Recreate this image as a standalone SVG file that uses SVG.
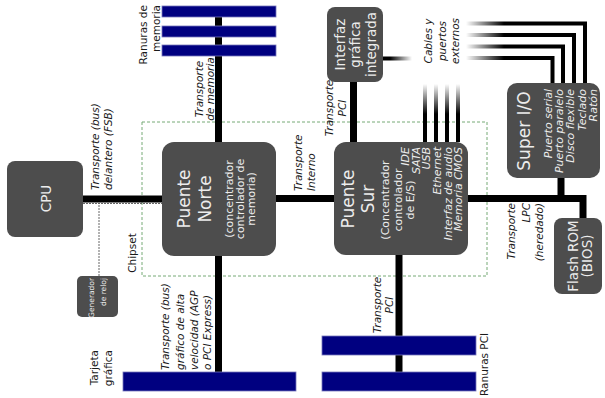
<svg xmlns="http://www.w3.org/2000/svg" width="605" height="398" viewBox="0 0 605 398">
<defs>
<style>
.box{fill:#4d4d4d}
.bus{stroke:#000;stroke-width:7;fill:none}
.thin{stroke-width:4;fill:none}
.slot{fill:#000080;stroke:#7777bb;stroke-width:0.8}
.dash{stroke:#666;stroke-width:1;stroke-dasharray:2 1;fill:none}
.chip{fill:none;stroke:#77aa77;stroke-width:1;stroke-dasharray:3 2}
text{font-family:"DejaVu Sans","Liberation Sans",sans-serif}
.w{fill:#ececec}
.big{font-size:17px}
.mid{font-size:13.5px}
.sm{font-size:11px}
.tiny{font-size:7.5px}
.lbl{font-size:10.5px;fill:#1a1a1a}
.it{font-style:italic}
.c{text-anchor:middle;dominant-baseline:central}
.e{text-anchor:end;dominant-baseline:central}
.s{text-anchor:start;dominant-baseline:central}
</style>
<linearGradient id="gIG" gradientUnits="userSpaceOnUse" x1="390" y1="0" x2="412" y2="0"><stop offset="0" stop-color="#000"/><stop offset="1" stop-color="#fff"/></linearGradient>
<linearGradient id="gSB" gradientUnits="userSpaceOnUse" x1="0" y1="84" x2="0" y2="114"><stop offset="0" stop-color="#fff"/><stop offset="1" stop-color="#000"/></linearGradient>
<linearGradient id="gSIO" gradientUnits="userSpaceOnUse" x1="466" y1="0" x2="504" y2="0"><stop offset="0" stop-color="#fff"/><stop offset="1" stop-color="#000"/></linearGradient>
</defs>
<rect width="605" height="398" fill="#fff"/>

<g id="chipset">
<rect class="chip" x="142" y="122" width="345" height="154"/>
<text class="lbl c" transform="translate(131.5,253) rotate(-90)">Chipset</text>
</g>

<g id="connectors">
<path class="bus" d="M83,199 H162"/>
<path class="bus" d="M218.5,17 V142"/>
<path class="bus" d="M276,198.5 H334"/>
<path class="bus" d="M218.5,256 V372"/>
<path class="bus" d="M353.5,82 V142"/>
<path class="bus" d="M399,255 V372"/>
<path class="bus" d="M468,198.5 H583 V218"/>
<path class="bus" d="M561,178 V198.5"/>
<path class="dash" d="M99,276 V203.5 M83,203.5 H162"/>
<path class="thin" stroke="url(#gIG)" d="M383,58.5 H412"/>
<path class="thin" stroke="url(#gSB)" d="M425,142 V83 M436,142 V83 M447,142 V83 M458,142 V83"/>
<path class="thin" stroke="url(#gSIO)" d="M466,23.5 H585 V83 M466,35 H574 V83 M466,46.5 H563 V83 M466,58 H552.5 V83"/>
<text class="lbl it s" transform="translate(95,190) rotate(-90)">Transporte (bus)</text>
<text class="lbl it s" transform="translate(108,190) rotate(-90)">delantero (FSB)</text>
<text class="lbl it c" transform="translate(198.5,89) rotate(-90)">Transporte</text>
<text class="lbl it c" transform="translate(210,89) rotate(-90)">de memoria</text>
<text class="lbl it s" transform="translate(297.5,191) rotate(-90)">Transporte</text>
<text class="lbl it s" transform="translate(310.5,191) rotate(-90)">Interno</text>
<text class="lbl it c" transform="translate(328.5,108) rotate(-90)">Transporte</text>
<text class="lbl it c" transform="translate(341.5,108) rotate(-90)">PCI</text>
<text class="lbl it c" transform="translate(428,41) rotate(-90)">Cables y</text>
<text class="lbl it c" transform="translate(442,41) rotate(-90)">puertos</text>
<text class="lbl it c" transform="translate(455,41) rotate(-90)">externos</text>
<text class="lbl it e" transform="translate(510.5,203) rotate(-90)">Transporte</text>
<text class="lbl it e" transform="translate(526,203) rotate(-90)">LPC</text>
<text class="lbl it e" transform="translate(538.5,203) rotate(-90)">(heredado)</text>
<text class="lbl it s" transform="translate(165,370) rotate(-90)">Transporte (bus)</text>
<text class="lbl it s" transform="translate(179.5,370) rotate(-90)">gráfico de alta</text>
<text class="lbl it s" transform="translate(193.5,370) rotate(-90)">velocidad (AGP</text>
<text class="lbl it s" transform="translate(207,370) rotate(-90)">o PCI Express)</text>
<text class="lbl it c" transform="translate(377,305) rotate(-90)">Transporte</text>
<text class="lbl it c" transform="translate(389,305) rotate(-90)">PCI</text>
</g>

<g id="memory-slots">
<rect class="slot" x="162" y="6" width="114" height="11"/>
<rect class="slot" x="162" y="26" width="114" height="11"/>
<rect class="slot" x="162" y="45" width="114" height="11"/>
<text class="lbl e" transform="translate(142.5,5) rotate(-90)">Ranuras de</text>
<text class="lbl e" transform="translate(156,5) rotate(-90)">memoria</text>
</g>

<g id="cpu">
<rect class="box" x="7" y="161" width="76" height="76" rx="8"/>
<text class="w mid c" transform="translate(46,198.5) rotate(-90)">CPU</text>
</g>

<g id="clock">
<rect class="box" x="77" y="276" width="41" height="41" rx="5"/>
<text class="w tiny e" transform="translate(91.5,278) rotate(-90)">Generador</text>
<text class="w tiny e" transform="translate(103.5,278) rotate(-90)">de reloj</text>
</g>

<g id="northbridge">
<rect class="box" x="162" y="142" width="114" height="114" rx="12"/>
<text class="w big c" transform="translate(184,199) rotate(-90)">Puente</text>
<text class="w big c" transform="translate(205,199) rotate(-90)">Norte</text>
<text class="w sm c" transform="translate(229,199) rotate(-90)">(concentrador</text>
<text class="w sm c" transform="translate(240,199) rotate(-90)">controlador de</text>
<text class="w sm c" transform="translate(251,199) rotate(-90)">memoria)</text>
</g>

<g id="southbridge">
<rect class="box" x="334" y="142" width="134" height="113" rx="12"/>
<text class="w big c" transform="translate(348,199) rotate(-90)">Puente</text>
<text class="w big c" transform="translate(368,199) rotate(-90)">Sur</text>
<text class="w sm c" transform="translate(385.5,200) rotate(-90)">(Concentrador</text>
<text class="w sm c" transform="translate(398,200) rotate(-90)">controlador</text>
<text class="w sm c" transform="translate(410,200) rotate(-90)">de E/S)</text>
<text class="w sm it e" transform="translate(405,147) rotate(-90)">IDE</text>
<text class="w sm it e" transform="translate(416,147) rotate(-90)">SATA</text>
<text class="w sm it e" transform="translate(426,147) rotate(-90)">USB</text>
<text class="w sm it e" transform="translate(437,147) rotate(-90)">Ethernet</text>
<text class="w sm it e" transform="translate(448,147) rotate(-90)">Interfaz de audio</text>
<text class="w sm it e" transform="translate(458.5,147) rotate(-90)">Memoria CMOS</text>
</g>

<g id="integrated-graphics">
<rect class="box" x="327" y="7" width="56" height="75" rx="8"/>
<text class="w mid c" transform="translate(339.5,44.5) rotate(-90)">Interfaz</text>
<text class="w mid c" transform="translate(355,44.5) rotate(-90)">gráfica</text>
<text class="w mid c" transform="translate(370.5,44.5) rotate(-90)">integrada</text>
</g>

<g id="super-io">
<rect class="box" x="507" y="83" width="93" height="95" rx="10"/>
<text class="w big c" transform="translate(524,131) rotate(-90)">Super I/O</text>
<text class="w sm it e" transform="translate(548.5,89) rotate(-90)">Puerto serial</text>
<text class="w sm it e" transform="translate(559.5,89) rotate(-90)">Puerto paralelo</text>
<text class="w sm it e" transform="translate(570.5,89) rotate(-90)">Disco flexible</text>
<text class="w sm it e" transform="translate(582,89) rotate(-90)">Teclado</text>
<text class="w sm it e" transform="translate(593,89) rotate(-90)">Ratón</text>
</g>

<g id="flash-rom">
<rect class="box" x="554" y="218" width="48" height="76" rx="8"/>
<text class="w mid c" transform="translate(572.5,256) rotate(-90)">Flash ROM</text>
<text class="w mid c" transform="translate(587,256) rotate(-90)">(BIOS)</text>
</g>

<g id="graphics-card">
<rect class="slot" x="123" y="372" width="173" height="19"/>
<text class="lbl e" transform="translate(94,350) rotate(-90)">Tarjeta</text>
<text class="lbl e" transform="translate(107.5,350) rotate(-90)">gráfica</text>
</g>

<g id="pci-slots">
<rect class="slot" x="322" y="336" width="154" height="19"/>
<rect class="slot" x="322" y="372" width="154" height="19"/>
<text class="lbl s" transform="translate(484,396) rotate(-90)">Ranuras PCI</text>
</g>
</svg>
